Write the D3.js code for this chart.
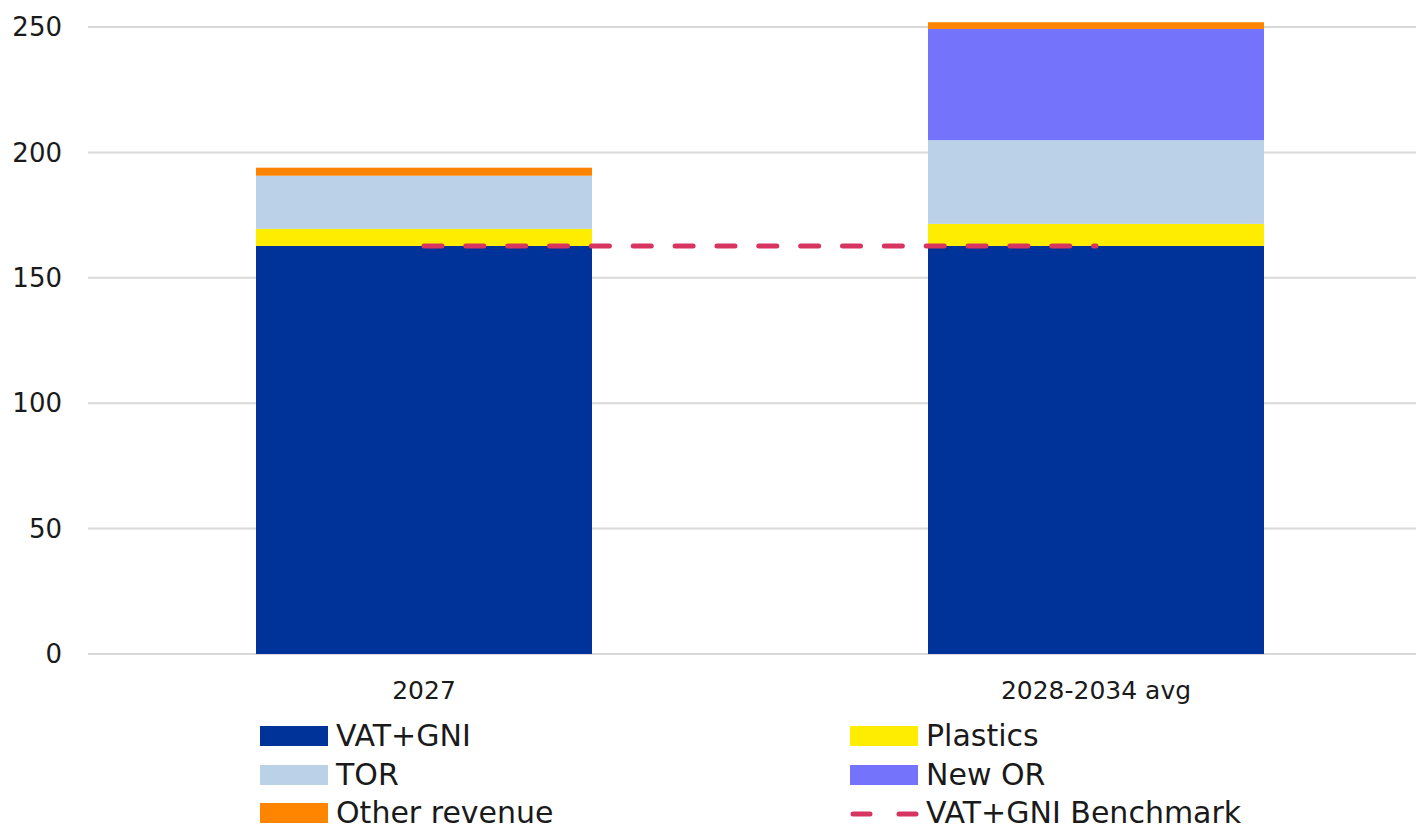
<!DOCTYPE html>
<html><head><meta charset="utf-8">
<script src="https://cdn.jsdelivr.net/npm/d3@7"></script>
<style>body{margin:0;background:#fff}svg{display:block}text{font-family:"DejaVu Sans",sans-serif;fill:#1a1a1a}</style>
</head><body><svg id="c" width="1416" height="831"></svg>
<script>
const categories = ["2027", "2028-2034 avg"];
const seriesNames = ["VAT+GNI", "Plastics", "TOR", "New OR", "Other revenue"];
const vatGni = [162.7, 162.7];
const plastics = [6.8, 8.8];
const tor = [21.2, 33.4];
const newOR = [0, 44.3];
const otherRevenue = [3.2, 2.7];
const benchmark = [162.7, 162.7];
const yTicks = [0, 50, 100, 150, 200, 250];
const colors = {"VAT+GNI":"#003399","Plastics":"#FFED00","TOR":"#BBD1E8","New OR":"#7373FC","Other revenue":"#FF8500","VAT+GNI Benchmark":"#D73560"};

const rows = categories.map((c,i)=>({cat:c,"VAT+GNI":vatGni[i],"Plastics":plastics[i],"TOR":tor[i],"New OR":newOR[i],"Other revenue":otherRevenue[i]}));
const svg = d3.select("#c");
const x = d3.scaleBand().domain(categories).range([88,1432]).paddingInner(0.5).paddingOuter(0.25);
const y = d3.scaleLinear().domain([0,250]).range([654,27]);

// grid
svg.append("g").selectAll("line").data(yTicks).join("line")
  .attr("x1",88).attr("x2",1416).attr("y1",d=>y(d)).attr("y2",d=>y(d))
  .attr("stroke","#d9d9d9").attr("stroke-width",2);
// y labels
svg.append("g").selectAll("text").data(yTicks).join("text")
  .attr("x",62).attr("y",d=>y(d)).attr("dy","0.35em").attr("text-anchor","end")
  .attr("font-size",26).text(d=>d);

const stack = d3.stack().keys(seriesNames)(rows);
svg.append("g").selectAll("g").data(stack).join("g").attr("fill",d=>colors[d.key])
  .selectAll("rect").data(d=>d).join("rect")
  .attr("x",d=>x(d.data.cat)).attr("width",x.bandwidth())
  .attr("y",d=>y(d[1])).attr("height",d=>y(d[0])-y(d[1]));

// x labels
svg.append("g").selectAll("text").data(categories).join("text")
  .attr("x",d=>x(d)+x.bandwidth()/2).attr("y",690).attr("dy","0.35em").attr("text-anchor","middle")
  .attr("font-size",25).text(d=>d);

// benchmark line
const line = d3.line().x(d=>x(d.c)+x.bandwidth()/2).y(d=>y(d.v));
svg.append("path").datum(categories.map((c,i)=>({c,v:benchmark[i]})))
  .attr("d",line).attr("fill","none").attr("stroke",colors["VAT+GNI Benchmark"])
  .attr("stroke-width",5).attr("stroke-linecap","round").attr("stroke-dasharray","18,23.85");

// legend
const legend = [
  {n:"VAT+GNI",x:260,y:736},{n:"Plastics",x:850,y:736},
  {n:"TOR",x:260,y:775},{n:"New OR",x:850,y:775},
  {n:"Other revenue",x:260,y:813},{n:"VAT+GNI Benchmark",x:850,y:813,line:true}];
const lg = svg.append("g").selectAll("g").data(legend).join("g");
lg.filter(d=>!d.line).append("rect").attr("x",d=>d.x).attr("y",d=>d.y-10).attr("width",68).attr("height",20).attr("fill",d=>colors[d.n]);
lg.filter(d=>d.line).append("line").attr("x1",d=>d.x+3).attr("x2",d=>d.x+66).attr("y1",d=>d.y+1).attr("y2",d=>d.y+1)
  .attr("stroke",colors["VAT+GNI Benchmark"]).attr("stroke-width",5).attr("stroke-linecap","round").attr("stroke-dasharray","17,29");
lg.append("text").attr("x",d=>d.x+76).attr("y",d=>d.y).attr("dy","0.33em").attr("font-size",30).text(d=>d.n);
</script></body></html>
